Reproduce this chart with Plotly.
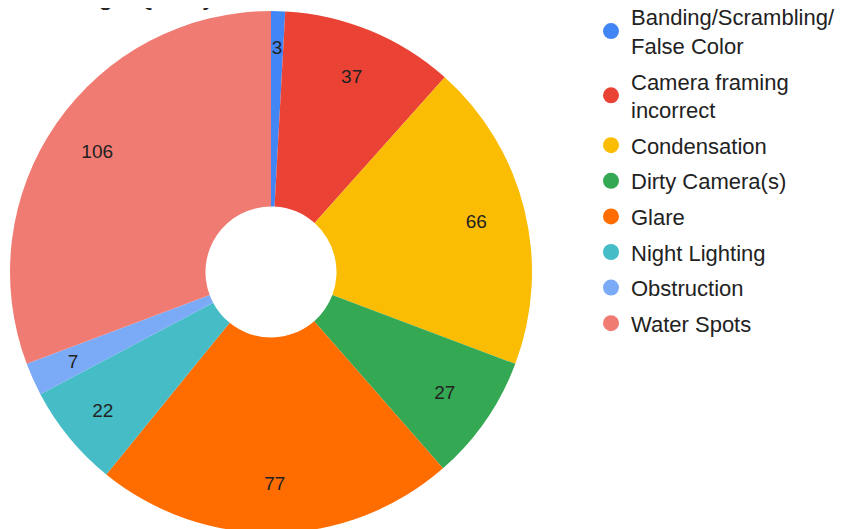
import plotly.graph_objects as go

# 실패 유형별 건수
labels = [
    "Banding/Scrambling/<br>False Color",
    "Camera framing<br>incorrect",
    "Condensation",
    "Dirty Camera(s)",
    "Glare",
    "Night Lighting",
    "Obstruction",
    "Water Spots",
]
values = [3, 37, 66, 27, 77, 22, 7, 106]
colors = ["#4285F4", "#EA4335", "#FBBC04", "#34A853",
          "#FF6D01", "#46BDC6", "#7BAAF7", "#F07B72"]

# 페이지 body 여백(8px) 감안
W, H = 835, 529
FONT = "Arial, Liberation Sans, sans-serif"
CX, CY, R = 263, 264, 261  # 파이 중심/반지름 (px)


def dom(r):
    return dict(x=[(CX - r) / W, (CX + r) / W],
                y=[(H - CY - r) / H, (H - CY + r) / H])


clear = ["rgba(0,0,0,0)"] * len(values)
small = [v < 10 for v in values]
txt_big = ["" if s else "%{value}" for s in small]
txt_small = ["%{value}" if s else "" for s in small]

fig = go.Figure()
fig.add_trace(go.Pie(
    labels=labels, values=values,
    marker=dict(colors=colors, line=dict(width=0)),
    hole=0.251, sort=False, direction="clockwise", rotation=0,
    textinfo="none", hoverinfo="label+value",
    domain=dom(R), showlegend=False,
))
# 라벨만 바깥쪽에 찍는 투명 파이
fig.add_trace(go.Pie(
    labels=labels, values=values,
    marker=dict(colors=clear, line=dict(width=0)),
    hole=0.62, sort=False, direction="clockwise", rotation=0,
    texttemplate=txt_big, textposition="inside",
    insidetextorientation="horizontal",
    textfont=dict(size=19, color="#222222", family=FONT),
    hoverinfo="skip",
    domain=dom(R), showlegend=False,
))
# 얇은 조각 라벨 (조금 안쪽)
fig.add_trace(go.Pie(
    labels=labels, values=values,
    marker=dict(colors=clear, line=dict(width=0)),
    sort=False, direction="clockwise", rotation=0,
    texttemplate=txt_small, textposition="inside",
    insidetextorientation="horizontal",
    textfont=dict(size=19, color="#222222", family=FONT),
    hoverinfo="skip",
    domain=dom(231), showlegend=False,
))

# 범례는 원형 마커로
for lab, col in zip(labels, colors):
    fig.add_trace(go.Scatter(
        x=[None], y=[None], mode="markers", name=lab,
        marker=dict(color=col, size=16, symbol="circle"),
        legendgroup=lab, showlegend=True,
    ))

fig.add_annotation(
    text="Total Image Quality Failures", xref="paper", yref="paper",
    x=309 / W, y=1, xanchor="right", yanchor="bottom", yshift=-5,
    showarrow=False, font=dict(size=26, color="#222222", family=FONT),
)

fig.update_layout(
    width=W, height=H,
    margin=dict(l=0, r=0, t=0, b=0, autoexpand=False),
    paper_bgcolor="white", plot_bgcolor="white",
    xaxis=dict(visible=False), yaxis=dict(visible=False),
    uniformtext=dict(minsize=19, mode="show"),
    legend=dict(
        x=583 / W, y=1 + 12 / H, xanchor="left", yanchor="top",
        font=dict(size=22, color="#222222", family=FONT),
        tracegroupgap=4, itemclick=False, maxheight=1,
    ),
)

fig.write_html("out.html")
